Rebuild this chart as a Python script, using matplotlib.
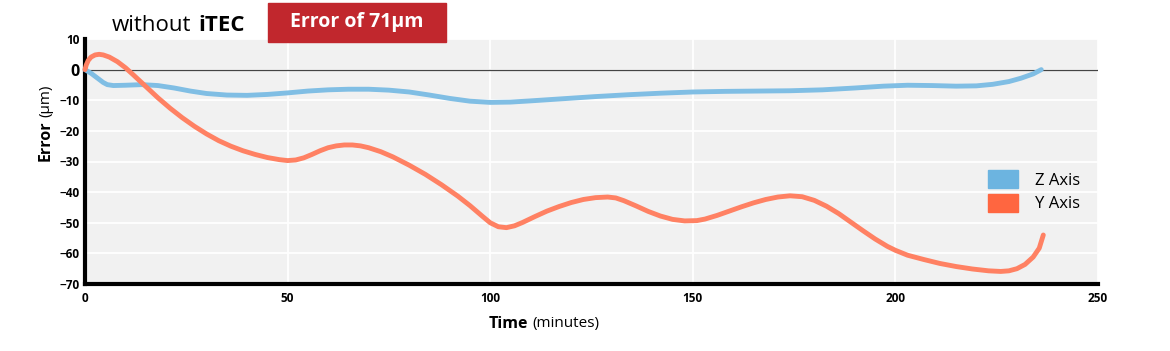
import matplotlib.pyplot as plt
from matplotlib.patches import Patch, Rectangle

plt.rcParams['font.family'] = ['Open Sans', 'DejaVu Sans']

# Z axis error (blue) - time in minutes, error in um
z_time = [0, 1.5, 3, 4.5, 5.5, 7, 10, 14, 18, 22, 26, 30, 35, 40, 45, 50, 55,
          60, 65, 70, 75, 80, 85, 90, 95, 100, 105, 110, 118, 126, 134, 142,
          150, 158, 166, 174, 182, 190, 197, 203, 209, 215, 220, 224, 228, 231,
          234, 236]
z_error = [0, -1.2, -2.7, -4.2, -4.9, -5.2, -5.1, -4.9, -5.2, -6, -7, -7.8,
           -8.3, -8.4, -8.1, -7.6, -7.0, -6.6, -6.4, -6.4, -6.7, -7.3, -8.3,
           -9.4, -10.3, -10.7, -10.6, -10.2, -9.5, -8.8, -8.2, -7.7, -7.3, -7.1,
           -7, -6.9, -6.6, -6, -5.4, -5.1, -5.2, -5.4, -5.3, -4.8, -3.9, -2.8,
           -1.4, 0]

# Y axis error (orange)
y_time = [0, 0.3, 0.8, 1.5, 2.5, 3.5, 4.5, 6, 8, 10, 12, 15, 18, 21, 24, 27,
          30, 33, 36, 39, 42, 45, 48, 50, 52, 54, 56, 58, 60, 62, 64, 66, 68,
          70, 73, 76, 80, 84, 88, 92, 95, 98, 100, 102, 104, 106, 108, 111, 114,
          117, 120, 123, 126, 129, 131, 133, 136, 139, 142, 145, 148, 151, 153,
          156, 159, 162, 165, 168, 171, 174, 177, 180, 183, 186, 189, 192, 195,
          198, 200, 203, 207, 211, 215, 219, 223, 226, 228, 230, 232, 234,
          235.5, 236.5]
y_error = [0, 1.5, 3, 4.1, 4.8, 5.0, 4.8, 4.1, 2.6, 0.6, -1.8, -5.5, -9.2,
           -12.6, -15.7, -18.5, -21, -23.2, -25, -26.5, -27.7, -28.7, -29.4,
           -29.7, -29.5, -28.8, -27.7, -26.5, -25.5, -24.9, -24.6, -24.6, -24.9,
           -25.5, -26.8, -28.5, -31.2, -34.2, -37.6, -41.3, -44.4, -47.8, -50,
           -51.3, -51.6, -51, -49.9, -48, -46.2, -44.7, -43.4, -42.4, -41.8,
           -41.6, -41.9, -42.8, -44.5, -46.3, -47.8, -48.9, -49.4, -49.3, -48.8,
           -47.6, -46.2, -44.8, -43.5, -42.4, -41.6, -41.2, -41.5, -42.7, -44.6,
           -47, -49.8, -52.6, -55.3, -57.7, -59, -60.6, -62, -63.3, -64.3,
           -65.1, -65.7, -65.9, -65.7, -65, -63.6, -61.2, -58.3, -54]

x_ticks = [0, 50, 100, 150, 200, 250]
y_ticks = [10, 0, -10, -20, -30, -40, -50, -60, -70]
labels = ['Z Axis', 'Y Axis']

W, H = 1170, 351
fig = plt.figure(figsize=(W / 100, H / 100), dpi=100)
ax = fig.add_axes([85 / W, 1 - 284 / H, (1098 - 85) / W, (284 - 39) / H])
ax.set_facecolor('#f1f1f1')

ax.set_xlim(0, 250)
ax.set_ylim(-70, 10)
ax.set_xticks(x_ticks)
ax.set_yticks(y_ticks)
ax.grid(True, color='white', lw=1.3)
ax.set_axisbelow(True)
ax.axhline(0, color='#444444', lw=0.9, zorder=1.5)

ax.plot(z_time, z_error, color='#80bee4', lw=3.5, solid_capstyle='round',
        solid_joinstyle='round', zorder=3, clip_on=False)
ax.plot(y_time, y_error, color='#ff8163', lw=3.5, solid_capstyle='round',
        solid_joinstyle='round', zorder=3, clip_on=False)

for s in ['top', 'right']:
    ax.spines[s].set_visible(False)
for s in ['left', 'bottom']:
    ax.spines[s].set_linewidth(3)
    ax.spines[s].set_color('black')

ax.tick_params(length=0)
ax.tick_params(axis='x', pad=6)
ax.tick_params(axis='y', pad=4)
for lab in ax.get_xticklabels() + ax.get_yticklabels():
    lab.set_fontweight('bold')
    lab.set_fontsize(8.5)
for lab in ax.get_yticklabels():
    if lab.get_text() == '0':
        lab.set_fontsize(11.5)

# axis labels, bold word + regular unit
fig.text(489 / W, 1 - 324 / H, 'Time', fontsize=11.5, fontweight='bold', ha='left', va='center')
fig.text(532 / W, 1 - 324 / H, '(minutes)', fontsize=11, ha='left', va='center')
fig.text(46 / W, 1 - 141 / H, 'Error', fontsize=11.5, fontweight='bold', rotation=90, ha='center', va='center')
fig.text(46 / W, 1 - 101 / H, '(µm)', fontsize=11, rotation=90, ha='center', va='center')

# header
fig.text(112 / W, 1 - 31 / H, 'without', fontsize=16, ha='left', va='baseline')
fig.text(198 / W, 1 - 31 / H, 'iTEC', fontsize=16, fontweight='bold', ha='left', va='baseline')
fig.patches.append(Rectangle((268 / W, 1 - 42 / H), 178 / W, 39 / H,
                             transform=fig.transFigure, color='#c1272d', zorder=0))
fig.text(357 / W, 1 - 22 / H, 'Error of 71µm', fontsize=14, fontweight='bold',
         color='white', ha='center', va='center')

handles = [Patch(color='#6cb4e0'), Patch(color='#ff6640')]
ax.legend(handles, labels, loc='upper left', bbox_to_anchor=(988 / W, 1 - 170 / H),
          bbox_transform=fig.transFigure, frameon=False, fontsize=12,
          handlelength=1.8, handleheight=1.3, handletextpad=1.0,
          labelspacing=0.3, borderpad=0, borderaxespad=0)

fig.savefig('out.png', dpi=100)
